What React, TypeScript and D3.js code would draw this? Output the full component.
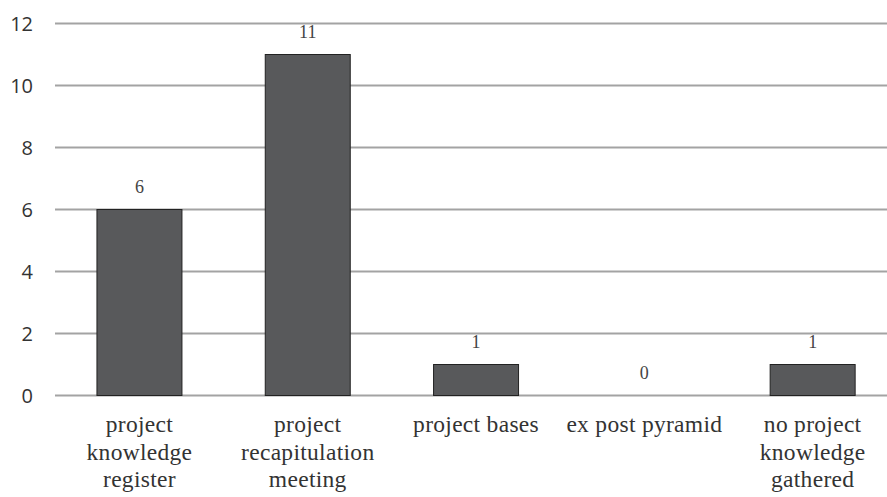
import React from "react";
import * as d3 from "d3";

const categories = [
  "project knowledge register",
  "project recapitulation meeting",
  "project bases",
  "ex post pyramid",
  "no project knowledge gathered",
];
const categoryLines = [
  ["project", "knowledge", "register"],
  ["project", "recapitulation", "meeting"],
  ["project bases"],
  ["ex post pyramid"],
  ["no project", "knowledge", "gathered"],
];
const values = [6, 11, 1, 0, 1];
const yTicks = [0, 2, 4, 6, 8, 10, 12];

const W = 887;
const H = 497;

export default function App() {
  const x = d3
    .scaleBand<string>()
    .domain(categories)
    .range([55.3, 55.3 + 168.3 * 5])
    .paddingInner(0.495)
    .paddingOuter(0.2475);
  const y = d3.scaleLinear().domain([0, 12]).range([395.5, 23.5]);

  return (
    <svg
      width={W}
      height={H}
      style={{ position: "absolute", left: 0, top: 0, background: "#fff" }}
    >
      {yTicks.map((t) => (
        <g key={t}>
          <line x1={55} x2={W} y1={y(t)} y2={y(t)} stroke="#a3a3a3" strokeWidth={1.8} />
          <text
            x={33}
            y={y(t)}
            dy="0.36em"
            textAnchor="end"
            fontFamily="'Open Sans', sans-serif"
            fontSize={20}
            fill="#333"
          >
            {t}
          </text>
        </g>
      ))}
      {categories.map((c, i) => {
        const v = values[i];
        const bx = x(c)!;
        const bw = x.bandwidth();
        return (
          <g key={c}>
            {v > 0 && (
              <rect
                x={bx}
                y={y(v)}
                width={bw}
                height={y(0) - y(v)}
                fill="#58595b"
                stroke="#222"
                strokeWidth={1}
              />
            )}
            <text
              x={bx + bw / 2}
              y={y(v) - 17}
              textAnchor="middle"
              fontFamily="'Liberation Serif', serif"
              fontSize={18}
              fill="#444"
            >
              {v}
            </text>
            {categoryLines[i].map((ln, j) => (
              <text
                key={j}
                x={bx + bw / 2}
                y={432 + j * 27.5}
                textAnchor="middle"
                fontFamily="'Liberation Serif', serif"
                fontSize={23.5}
                letterSpacing={0.3}
                fill="#333"
              >
                {ln}
              </text>
            ))}
          </g>
        );
      })}
    </svg>
  );
}
